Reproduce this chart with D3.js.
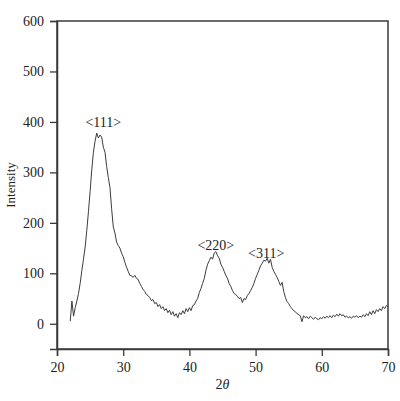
<!DOCTYPE html>
<html><head><meta charset="utf-8">
<script src="https://cdn.jsdelivr.net/npm/d3@7"></script>
<style>body{margin:0;background:#fff}svg text{font-family:"Liberation Serif","DejaVu Serif",serif;fill:#222}</style>
</head><body><svg id="c" width="400" height="401"></svg>
<script>
const twoTheta = [22.00,22.25,22.50,22.75,23.00,23.25,23.50,23.75,24.00,24.25,24.50,24.75,25.00,25.25,25.50,25.75,26.00,26.25,26.50,26.75,27.00,27.25,27.50,27.75,28.00,28.25,28.50,28.75,29.00,29.25,29.50,29.75,30.00,30.25,30.50,30.75,31.00,31.25,31.50,31.75,32.00,32.25,32.50,32.75,33.00,33.25,33.50,33.75,34.00,34.25,34.50,34.75,35.00,35.25,35.50,35.75,36.00,36.25,36.50,36.75,37.00,37.25,37.50,37.75,38.00,38.25,38.50,38.75,39.00,39.25,39.50,39.75,40.00,40.25,40.50,40.75,41.00,41.25,41.50,41.75,42.00,42.25,42.50,42.75,43.00,43.25,43.50,43.75,44.00,44.25,44.50,44.75,45.00,45.25,45.50,45.75,46.00,46.25,46.50,46.75,47.00,47.25,47.50,47.75,48.00,48.25,48.50,48.75,49.00,49.25,49.50,49.75,50.00,50.25,50.50,50.75,51.00,51.25,51.50,51.75,52.00,52.25,52.50,52.75,53.00,53.25,53.50,53.75,54.00,54.25,54.50,54.75,55.00,55.25,55.50,55.75,56.00,56.25,56.50,56.75,57.00,57.25,57.50,57.75,58.00,58.25,58.50,58.75,59.00,59.25,59.50,59.75,60.00,60.25,60.50,60.75,61.00,61.25,61.50,61.75,62.00,62.25,62.50,62.75,63.00,63.25,63.50,63.75,64.00,64.25,64.50,64.75,65.00,65.25,65.50,65.75,66.00,66.25,66.50,66.75,67.00,67.25,67.50,67.75,68.00,68.25,68.50,68.75,69.00,69.25,69.50,69.75,70.00];
const intensity = [5,45,15,32,45,60,80,105,128,152,185,222,262,305,340,362,378,368,374,370,350,340,312,290,270,228,192,180,162,155,150,140,133,122,112,104,96,95,92,96,90,88,80,74,68,64,58,56,52,46,48,40,42,34,38,30,34,26,30,22,27,18,24,15,20,12,22,18,26,20,30,24,32,26,36,38,45,50,62,70,80,90,106,118,125,132,128,140,143,135,130,118,112,104,96,90,80,74,66,60,58,54,50,52,42,50,48,56,60,66,72,80,90,98,106,115,120,126,124,130,120,128,112,104,98,92,84,76,82,64,52,44,40,34,30,26,24,20,18,16,4,16,12,14,10,15,12,9,13,10,8,12,10,14,11,15,12,16,12,17,14,19,15,20,16,18,13,15,12,14,11,15,13,16,12,15,13,18,14,20,16,24,18,26,20,28,24,30,26,34,30,36,34];
const xTicks = [20,30,40,50,60,70];
const yTicks = [0,100,200,300,400,500,600];
const peakLabels = ["<111>","<220>","<311>"];
const peakX = [27.0,44.0,51.6];
const peakY = [390,146,131];

const svg = d3.select("#c");
const L=57,R=388,T=21,B=349;
const x = d3.scaleLinear().domain([20,70]).range([L,R]);
const y = d3.scaleLinear().domain([-50,600]).range([B,T]);

const ax = "#3a3a3a";
svg.append("rect").attr("x",L).attr("y",T).attr("width",R-L).attr("height",B-T)
  .attr("fill","none").attr("stroke",ax).attr("stroke-width",1.5);

const gx = svg.append("g").attr("transform",`translate(0,${B})`)
  .call(d3.axisBottom(x).tickValues(xTicks).tickSize(7).tickPadding(6));
const gy = svg.append("g").attr("transform",`translate(${L},0)`)
  .call(d3.axisLeft(y).tickValues(yTicks).tickSize(7).tickPadding(6));
[gx,gy].forEach(g=>{
  g.select(".domain").attr("stroke",ax).attr("stroke-width",1.5);
  g.selectAll(".tick line").attr("stroke",ax).attr("stroke-width",1.3);
  g.selectAll(".tick text").attr("font-size",14).attr("fill","#222");
});

const line = d3.line().x((d,i)=>x(twoTheta[i])).y(d=>y(d));
svg.append("path").datum(intensity).attr("d",line)
  .attr("fill","none").attr("stroke","#3c3c3c").attr("stroke-width",1).attr("stroke-linejoin","round");

svg.selectAll("text.pk").data(peakLabels).enter().append("text").attr("class","pk")
  .attr("x",(d,i)=>x(peakX[i])).attr("y",(d,i)=>y(peakY[i]))
  .attr("text-anchor","middle").attr("font-size",14).text(d=>d);

svg.append("text").attr("transform","translate(15,185) rotate(-90)")
  .attr("text-anchor","middle").attr("font-size",13).text("Intensity");
svg.append("text").attr("x",(L+R)/2).attr("y",389).attr("text-anchor","middle")
  .attr("font-size",14).html('2<tspan font-style="italic">θ</tspan>');
</script></body></html>
